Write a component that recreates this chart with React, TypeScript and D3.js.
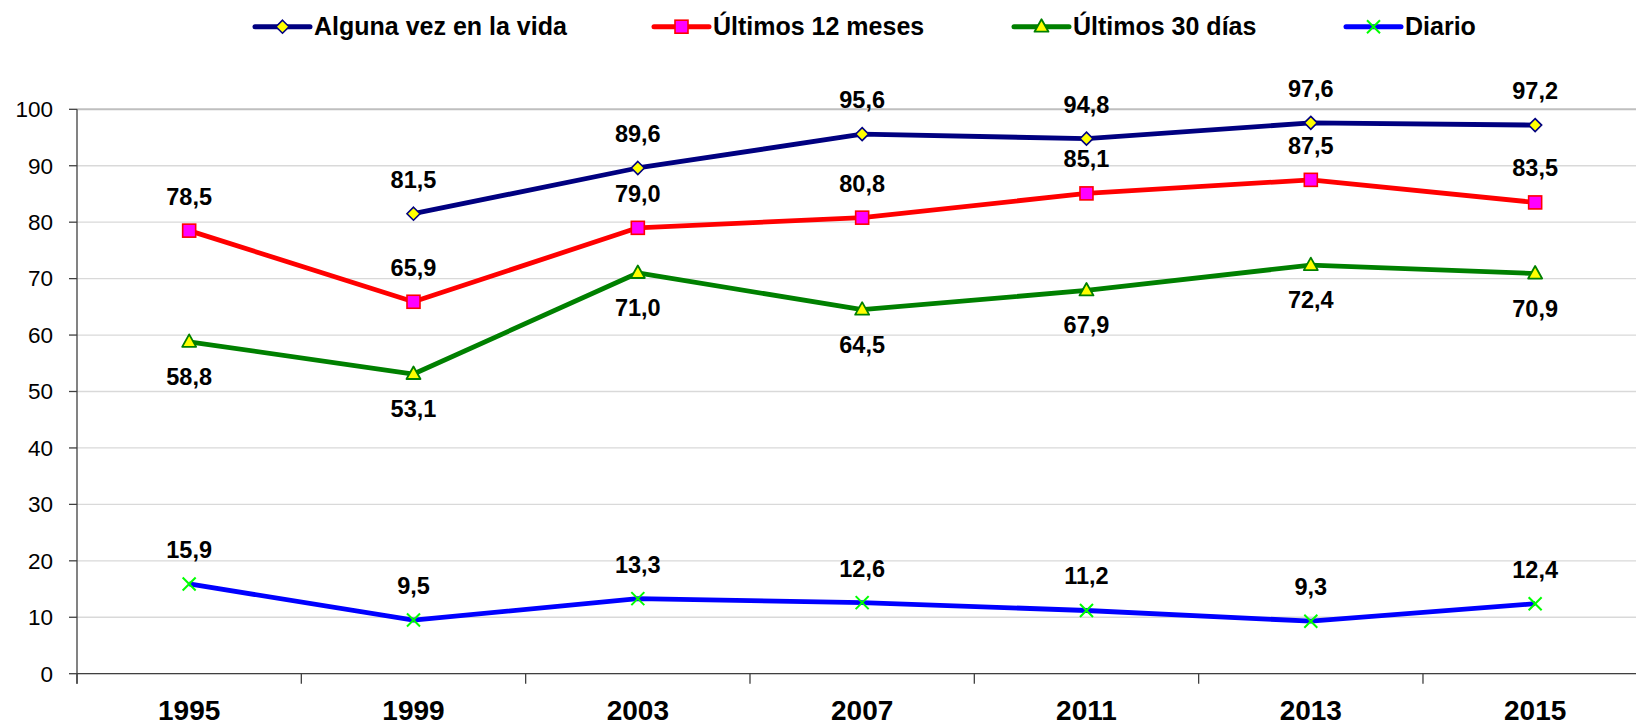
import * as d3 from 'd3';
import React from 'react';

const years = ['1995', '1999', '2003', '2007', '2011', '2013', '2015'];
const alguna = [null, 81.5, 89.6, 95.6, 94.8, 97.6, 97.2];
const ultimos12 = [78.5, 65.9, 79.0, 80.8, 85.1, 87.5, 83.5];
const ultimos30 = [58.8, 53.1, 71.0, 64.5, 67.9, 72.4, 70.9];
const diario = [15.9, 9.5, 13.3, 12.6, 11.2, 9.3, 12.4];
const yTicks = [0, 10, 20, 30, 40, 50, 60, 70, 80, 90, 100];

const W = 1636;
const H = 727;
const FONT = '"Liberation Sans", Arial, sans-serif';

const series = [
  { name: 'Alguna vez en la vida', values: alguna, color: '#000080', marker: 'diamond', below: false, legendX: 255 },
  { name: 'Últimos 12 meses', values: ultimos12, color: '#FF0000', marker: 'square', below: false, legendX: 654 },
  { name: 'Últimos 30 días', values: ultimos30, color: '#008000', marker: 'triangle', below: true, legendX: 1014 },
  { name: 'Diario', values: diario, color: '#0000FF', marker: 'x', below: false, legendX: 1346 },
];

const fmt = (v: number) => d3.format('.1f')(v).replace('.', ',');

function Marker({ kind, x, y }: { kind: string; x: number; y: number }) {
  if (kind === 'diamond') {
    const s = 6.5;
    return <path d={`M${x},${y - s}L${x + s},${y}L${x},${y + s}L${x - s},${y}Z`} fill="#FFFF00" stroke="#000080" strokeWidth={1.6} />;
  }
  if (kind === 'square') {
    const s = 6.5;
    return <rect x={x - s} y={y - s} width={2 * s} height={2 * s} fill="#FF00FF" stroke="#FF0000" strokeWidth={1.6} />;
  }
  if (kind === 'triangle') {
    return <path d={`M${x},${y - 7.5}L${x + 7},${y + 5}L${x - 7},${y + 5}Z`} fill="#FFFF00" stroke="#008000" strokeWidth={1.8} strokeLinejoin="round" />;
  }
  const s = 6.5;
  return (
    <g stroke="#00FF00" strokeWidth={2}>
      <line x1={x - s} y1={y - s} x2={x + s} y2={y + s} />
      <line x1={x - s} y1={y + s} x2={x + s} y2={y - s} />
    </g>
  );
}

export default function App() {
  const left = 77;
  const step = 224.33;
  const x = d3.scalePoint<string>().domain(years).range([left, left + step * years.length]).padding(0.5);
  const y = d3.scaleLinear().domain([0, 100]).range([673.7, 109.3]);

  const line = d3.line<number | null>()
    .defined((d) => d !== null)
    .x((_, i) => x(years[i]) as number)
    .y((d) => y(d as number));

  const bounds = d3.range(years.length + 1).map((i) => left + step * i);

  return (
    <svg width={W} height={H} style={{ position: 'absolute', left: 0, top: 0, background: '#fff' }} fontFamily={FONT}>
      {/* gridlines */}
      {yTicks.map((t) => (
        <line key={t} x1={left} x2={W} y1={y(t)} y2={y(t)}
          stroke={t === 100 ? '#bfbfbf' : '#d9d9d9'} strokeWidth={t === 100 ? 2 : 1.3} />
      ))}
      {/* y axis */}
      <line x1={left} x2={left} y1={y(100)} y2={y(0) + 10} stroke="#404040" strokeWidth={1.3} />
      {yTicks.map((t) => (
        <g key={t}>
          <line x1={left - 8} x2={left} y1={y(t)} y2={y(t)} stroke="#404040" strokeWidth={1.3} />
          <text x={53} y={y(t)} dy="0.35em" textAnchor="end" fontSize={22.5} fill="#000">{t}</text>
        </g>
      ))}
      {/* x axis */}
      <line x1={left} x2={W} y1={y(0)} y2={y(0)} stroke="#404040" strokeWidth={1.3} />
      {bounds.map((b, i) => (
        <line key={i} x1={b} x2={b} y1={y(0)} y2={y(0) + 10} stroke="#404040" strokeWidth={1.3} />
      ))}
      {years.map((yr) => (
        <text key={yr} x={x(yr)} y={720} textAnchor="middle" fontSize={28} fontWeight="bold">{yr}</text>
      ))}

      {/* series */}
      {series.map((s) => (
        <g key={s.name}>
          <path d={line(s.values) || ''} fill="none" stroke={s.color} strokeWidth={4.8} strokeLinejoin="round" />
          {s.values.map((v, i) => v === null ? null : (
            <g key={i}>
              <Marker kind={s.marker} x={x(years[i]) as number} y={y(v)} />
              <text x={x(years[i])} y={s.below ? y(v) + 43 : y(v) - 26} textAnchor="middle" fontSize={23.5} fontWeight="bold">{fmt(v)}</text>
            </g>
          ))}
        </g>
      ))}

      {/* legend */}
      {series.map((s) => (
        <g key={s.name}>
          <line x1={s.legendX} x2={s.legendX + 55} y1={26.7} y2={26.7} stroke={s.color} strokeWidth={5} strokeLinecap="round" />
          <Marker kind={s.marker} x={s.legendX + 27.5} y={26.7} />
          <text x={s.legendX + 59} y={34.5} fontSize={25} fontWeight="bold">{s.name}</text>
        </g>
      ))}
    </svg>
  );
}
